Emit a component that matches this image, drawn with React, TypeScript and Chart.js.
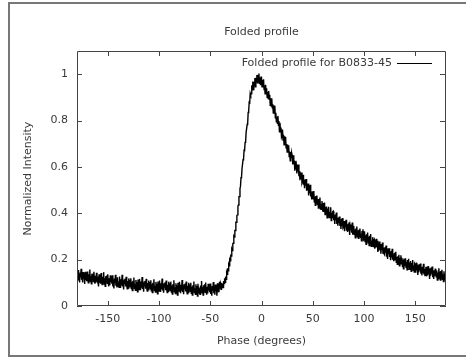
import React, { useEffect, useRef } from 'react';
import { Chart, registerables } from 'chart.js';

Chart.register(...registerables);

const chartTitle = 'Folded profile';
const seriesLabel = 'Folded profile for B0833-45';
const xAxisTitle = 'Phase (degrees)';
const yAxisTitle = 'Normalized Intensity';

const phaseStart = -180; // degrees, first bin
const phaseStep = 0.5; // degrees per bin
const xRange = [-180, 180];
const yRange = [0, 1.1];
const xTicks = [-150, -100, -50, 0, 50, 100, 150];
const yTicks = [0, 0.2, 0.4, 0.6, 0.8, 1];

// normalized intensity per 0.5-degree phase bin, -180 .. 180 (one row = 10 degrees)
const intensity = [
  0.148, 0.118, 0.155, 0.110, 0.138, 0.102, 0.144, 0.124, 0.161, 0.113, 0.129, 0.102, 0.146, 0.117, 0.138, 0.095, 0.148, 0.112, 0.132, 0.107,
  0.149, 0.118, 0.100, 0.137, 0.111, 0.157, 0.106, 0.131, 0.096, 0.139, 0.117, 0.140, 0.106, 0.148, 0.111, 0.096, 0.130, 0.101, 0.143, 0.114,
  0.106, 0.127, 0.084, 0.137, 0.101, 0.121, 0.096, 0.142, 0.111, 0.093, 0.126, 0.100, 0.146, 0.095, 0.120, 0.085, 0.128, 0.109, 0.132, 0.098,
  0.137, 0.100, 0.085, 0.119, 0.090, 0.132, 0.103, 0.126, 0.096, 0.133, 0.084, 0.112, 0.076, 0.118, 0.098, 0.135, 0.087, 0.107, 0.080, 0.124,
  0.086, 0.106, 0.081, 0.127, 0.096, 0.078, 0.115, 0.089, 0.135, 0.084, 0.106, 0.071, 0.114, 0.095, 0.118, 0.084, 0.126, 0.089, 0.074, 0.108,
  0.077, 0.119, 0.090, 0.113, 0.083, 0.120, 0.075, 0.103, 0.067, 0.109, 0.086, 0.123, 0.075, 0.095, 0.068, 0.112, 0.083, 0.104, 0.061, 0.114,
  0.096, 0.071, 0.117, 0.086, 0.068, 0.105, 0.079, 0.125, 0.074, 0.099, 0.062, 0.105, 0.086, 0.109, 0.075, 0.117, 0.080, 0.065, 0.099, 0.070,
  0.110, 0.081, 0.104, 0.074, 0.111, 0.066, 0.094, 0.058, 0.100, 0.080, 0.115, 0.067, 0.087, 0.060, 0.104, 0.075, 0.096, 0.053, 0.106, 0.070,
  0.064, 0.110, 0.079, 0.061, 0.098, 0.072, 0.118, 0.067, 0.092, 0.057, 0.098, 0.079, 0.102, 0.068, 0.110, 0.073, 0.058, 0.092, 0.063, 0.105,
  0.075, 0.098, 0.068, 0.105, 0.060, 0.088, 0.052, 0.094, 0.074, 0.111, 0.061, 0.081, 0.054, 0.098, 0.069, 0.090, 0.047, 0.100, 0.064, 0.084,
  0.104, 0.073, 0.055, 0.092, 0.066, 0.112, 0.061, 0.086, 0.051, 0.094, 0.074, 0.097, 0.063, 0.105, 0.068, 0.053, 0.087, 0.058, 0.100, 0.071,
  0.093, 0.063, 0.100, 0.055, 0.083, 0.047, 0.089, 0.069, 0.106, 0.058, 0.077, 0.050, 0.094, 0.065, 0.086, 0.043, 0.096, 0.060, 0.080, 0.055,
  0.051, 0.088, 0.062, 0.108, 0.057, 0.082, 0.047, 0.090, 0.071, 0.094, 0.059, 0.101, 0.064, 0.049, 0.083, 0.054, 0.096, 0.067, 0.090, 0.060,
  0.097, 0.052, 0.080, 0.044, 0.086, 0.066, 0.103, 0.055, 0.075, 0.049, 0.093, 0.064, 0.086, 0.044, 0.098, 0.062, 0.083, 0.059, 0.105, 0.075,
  0.092, 0.072, 0.100, 0.080, 0.097, 0.080, 0.108, 0.097, 0.120, 0.102, 0.127, 0.115, 0.144, 0.137, 0.163, 0.152, 0.179, 0.173, 0.200, 0.195,
  0.218, 0.216, 0.245, 0.239, 0.269, 0.271, 0.301, 0.297, 0.326, 0.326, 0.361, 0.361, 0.390, 0.393, 0.431, 0.436, 0.472, 0.472, 0.507, 0.516,
  0.553, 0.556, 0.592, 0.592, 0.631, 0.635, 0.672, 0.671, 0.706, 0.709, 0.749, 0.749, 0.783, 0.788, 0.835, 0.842, 0.879, 0.877, 0.917, 0.910,
  0.916, 0.952, 0.933, 0.968, 0.934, 0.967, 0.954, 0.983, 0.946, 0.985, 0.967, 0.997, 0.963, 0.997, 0.969, 1.003, 0.961, 0.986, 0.955, 0.987,
  0.987, 0.946, 0.975, 0.950, 0.978, 0.934, 0.951, 0.915, 0.954, 0.919, 0.939, 0.900, 0.923, 0.895, 0.927, 0.893, 0.911, 0.866, 0.896, 0.862,
  0.896, 0.855, 0.870, 0.832, 0.866, 0.836, 0.864, 0.812, 0.833, 0.795, 0.815, 0.788, 0.820, 0.780, 0.798, 0.751, 0.790, 0.756, 0.770, 0.729,
  0.736, 0.761, 0.716, 0.739, 0.695, 0.732, 0.702, 0.730, 0.682, 0.699, 0.664, 0.696, 0.664, 0.693, 0.645, 0.666, 0.626, 0.664, 0.640, 0.659,
  0.649, 0.611, 0.650, 0.612, 0.627, 0.584, 0.624, 0.590, 0.604, 0.572, 0.610, 0.580, 0.610, 0.560, 0.581, 0.543, 0.576, 0.548, 0.576, 0.531,
  0.538, 0.566, 0.523, 0.545, 0.508, 0.546, 0.520, 0.548, 0.497, 0.522, 0.498, 0.528, 0.477, 0.515, 0.487, 0.523, 0.472, 0.491, 0.460, 0.492,
  0.494, 0.462, 0.496, 0.450, 0.472, 0.434, 0.475, 0.452, 0.477, 0.439, 0.460, 0.423, 0.462, 0.435, 0.468, 0.418, 0.439, 0.417, 0.453, 0.416,
  0.409, 0.444, 0.412, 0.446, 0.395, 0.427, 0.408, 0.429, 0.381, 0.421, 0.395, 0.428, 0.382, 0.407, 0.384, 0.426, 0.369, 0.402, 0.382, 0.407,
  0.409, 0.370, 0.390, 0.354, 0.395, 0.370, 0.403, 0.354, 0.382, 0.346, 0.382, 0.358, 0.386, 0.345, 0.365, 0.332, 0.376, 0.344, 0.379, 0.337,
  0.341, 0.367, 0.323, 0.359, 0.340, 0.372, 0.325, 0.348, 0.319, 0.355, 0.325, 0.361, 0.306, 0.344, 0.329, 0.351, 0.316, 0.360, 0.308, 0.332,
  0.346, 0.309, 0.330, 0.294, 0.334, 0.315, 0.343, 0.298, 0.326, 0.292, 0.329, 0.302, 0.334, 0.296, 0.313, 0.281, 0.324, 0.297, 0.331, 0.285,
  0.288, 0.322, 0.278, 0.305, 0.266, 0.309, 0.285, 0.317, 0.273, 0.299, 0.261, 0.303, 0.274, 0.311, 0.258, 0.283, 0.263, 0.297, 0.256, 0.283,
  0.287, 0.247, 0.277, 0.252, 0.290, 0.254, 0.281, 0.233, 0.265, 0.239, 0.278, 0.243, 0.267, 0.226, 0.261, 0.242, 0.274, 0.225, 0.252, 0.226,
  0.222, 0.253, 0.230, 0.261, 0.213, 0.244, 0.203, 0.249, 0.224, 0.249, 0.212, 0.232, 0.198, 0.237, 0.209, 0.247, 0.200, 0.221, 0.193, 0.225,
  0.230, 0.199, 0.234, 0.189, 0.211, 0.180, 0.215, 0.193, 0.221, 0.173, 0.208, 0.182, 0.219, 0.189, 0.208, 0.170, 0.199, 0.160, 0.205, 0.174,
  0.174, 0.206, 0.167, 0.191, 0.156, 0.198, 0.176, 0.204, 0.158, 0.188, 0.167, 0.194, 0.150, 0.186, 0.165, 0.198, 0.154, 0.175, 0.146, 0.182,
  0.178, 0.144, 0.187, 0.154, 0.179, 0.134, 0.166, 0.146, 0.180, 0.153, 0.183, 0.139, 0.166, 0.132, 0.169, 0.143, 0.182, 0.136, 0.159, 0.129,
  0.144, 0.169, 0.128, 0.159, 0.132, 0.172, 0.137, 0.163, 0.117, 0.153, 0.131, 0.166, 0.139, 0.170, 0.124, 0.152, 0.117, 0.154, 0.129, 0.159,
  0.161, 0.126, 0.153, 0.112, 0.145, 0.117, 0.163, 0.128, 0.148, 0.112, 0.151, 0.123, 0.156, 0.115, 0.137, 0.105, 0.150, 0.117, 0.140, 0.108,
  0.131,
];

const FONT = 'DejaVu Sans';
const TEXT = '#3a3a3a';

const gnuplotDecor = {
  id: 'gnuplotDecor',
  beforeDraw(chart: any) {
    const ctx = chart.ctx;
    ctx.save();
    ctx.strokeStyle = '#777';
    ctx.lineWidth = 2;
    ctx.beginPath();
    ctx.moveTo(chart.width + 2, 3);
    ctx.lineTo(9, 3);
    ctx.lineTo(9, 356);
    ctx.lineTo(chart.width + 2, 356);
    ctx.stroke();
    ctx.restore();
  },
  afterDatasetsDraw(chart: any) {
    const { ctx, chartArea: a, scales } = chart;
    const xs = scales.x;
    const ys = scales.y;
    ctx.save();
    ctx.strokeStyle = '#444';
    ctx.lineWidth = 1;
    ctx.beginPath();
    ctx.rect(a.left + 0.5, a.top + 0.5, a.right - a.left - 1, a.bottom - a.top - 1);
    const tl = 5;
    for (const v of xTicks) {
      const px = Math.round(xs.getPixelForValue(v)) + 0.5;
      ctx.moveTo(px, a.bottom);
      ctx.lineTo(px, a.bottom - tl);
      ctx.moveTo(px, a.top);
      ctx.lineTo(px, a.top + tl);
    }
    for (const v of yTicks) {
      const py = Math.round(ys.getPixelForValue(v)) + 0.5;
      ctx.moveTo(a.left, py);
      ctx.lineTo(a.left + tl, py);
      ctx.moveTo(a.right, py);
      ctx.lineTo(a.right - tl - 1, py);
    }
    ctx.stroke();
    // in-plot legend (gnuplot key)
    const ly = a.top + 12;
    const lineEnd = a.right - 14;
    const lineStart = lineEnd - 35;
    ctx.strokeStyle = '#000';
    ctx.beginPath();
    ctx.moveTo(lineStart, Math.round(ly) + 0.5);
    ctx.lineTo(lineEnd, Math.round(ly) + 0.5);
    ctx.stroke();
    ctx.fillStyle = TEXT;
    ctx.font = `11px "${FONT}"`;
    ctx.textAlign = 'right';
    ctx.textBaseline = 'middle';
    ctx.fillText(chart.data.datasets[0].label, lineStart - 5, ly);
    ctx.restore();
  },
};

export default function App() {
  const ref = useRef<HTMLCanvasElement | null>(null);

  useEffect(() => {
    if (!ref.current) return;
    Chart.defaults.font.family = FONT;
    Chart.defaults.font.size = 11;
    Chart.defaults.color = TEXT;
    const points = intensity.map((v, i) => ({ x: phaseStart + i * phaseStep, y: v }));
    const chart = new Chart(ref.current, {
      type: 'line',
      data: {
        datasets: [
          {
            label: seriesLabel,
            data: points,
            borderColor: '#000',
            borderWidth: 1.4,
            pointRadius: 0,
            tension: 0,
            fill: false,
          },
        ],
      },
      options: {
        animation: false,
        responsive: false,
        maintainAspectRatio: false,
        layout: { padding: { left: 0, right: 20, top: 0, bottom: 0 } },
        plugins: {
          legend: { display: false },
          tooltip: { enabled: false },
          title: {
            display: true,
            fullSize: false,
            text: chartTitle,
            color: TEXT,
            font: { family: FONT, size: 11, weight: 'normal' },
            padding: { top: 25.5, bottom: 12.3 },
          },
        },
        scales: {
          x: {
            type: 'linear',
            min: xRange[0],
            max: xRange[1],
            grid: { display: false, drawTicks: false },
            border: { display: false },
            afterBuildTicks: (s: any) => {
              s.ticks = xTicks.map((v) => ({ value: v }));
            },
            afterFit: (s: any) => {
              s.height = 52;
            },
            ticks: {
              autoSkip: false,
              maxRotation: 0,
              padding: 7,
              color: TEXT,
              callback: (v: any) => String(v),
            },
            title: {
              display: true,
              text: xAxisTitle,
              color: TEXT,
              font: { family: FONT, size: 11 },
              padding: { top: 0, bottom: 10.4 },
            },
          },
          y: {
            type: 'linear',
            min: yRange[0],
            max: yRange[1],
            grid: { display: false, drawTicks: false },
            border: { display: false },
            afterBuildTicks: (s: any) => {
              s.ticks = yTicks.map((v) => ({ value: v }));
            },
            afterFit: (s: any) => {
              s.width = 77;
            },
            ticks: {
              padding: 9,
              color: TEXT,
              callback: (v: any) => String(Number(v)),
            },
            title: {
              display: true,
              text: yAxisTitle,
              color: TEXT,
              font: { family: FONT, size: 11 },
              padding: { top: 21.4, bottom: 0 },
            },
          },
        },
      },
      plugins: [gnuplotDecor],
    });
    return () => chart.destroy();
  }, []);

  return (
    <div style={{ position: 'fixed', left: 0, top: 0, width: 466, height: 358, background: '#fff' }}>
      <canvas ref={ref} width={466} height={358} style={{ display: 'block', width: 466, height: 358 }} />
    </div>
  );
}
